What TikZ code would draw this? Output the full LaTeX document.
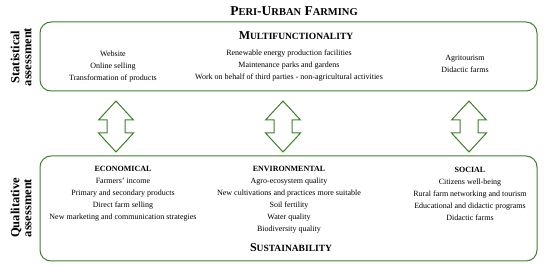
\documentclass[tikz,border=0pt]{standalone}
\usepackage{fontspec}
\setmainfont{Liberation Serif}

\definecolor{frameGreen}{RGB}{62,128,40}

\begin{document}
\begin{tikzpicture}[x=1pt,y=-1pt,
    areabox/.style={draw=frameGreen,line width=1pt,rounded corners=11pt},
    itemtext/.style={align=center,font=\fontsize{8}{12}\selectfont,inner sep=0pt},
    sidelabel/.style={rotate=90,align=center,font=\fontsize{12.5}{12}\selectfont\bfseries,inner sep=0pt},
    headtext/.style={font=\fontsize{12}{12}\selectfont\bfseries,inner sep=0pt},
    biarrow/.style={draw=frameGreen,line width=1pt,fill=white}]
  \useasboundingbox (0,0) rectangle (550,267);
  % title
  \node[headtext,font=\fontsize{13.5}{12}\selectfont\bfseries] (title) at (294,11) {P{\fontsize{10.5}{12}\selectfont ERI}-U{\fontsize{10.5}{12}\selectfont RBAN} F{\fontsize{10.5}{12}\selectfont ARMING}};
  % the two frames
  \draw[areabox] (40,22) rectangle (537,91);
  \draw[areabox] (40,156) rectangle (537,261);
  \node[sidelabel] (stat) at (21,57) {Statistical\\assessment};
  \node[sidelabel] (qual) at (21,208) {Qualitative\\assessment};
  % multifunctionality
  \node[headtext] (multi) at (296,36) {M{\fontsize{9.5}{12}\selectfont ULTIFUNCTIONALITY}};
  \node[itemtext] (web) at (113,67) {Website\\Online selling\\Transformation of products};
  \node[itemtext] (energy) at (289,66) {Renewable energy production facilities\\Maintenance parks and gardens\\Work on behalf of third parties - non-agricultural activities};
  \node[itemtext] (tour) at (465,64) {Agritourism\\Didactic farms};
  % sustainability
  \node[itemtext] (eco) at (123,194) {\textbf{ECONOMICAL}\\Farmers' income\\Primary and secondary products\\Direct farm selling\\New marketing and communication  strategies};
  \node[itemtext] (env) at (289,200) {\textbf{ENVIRONMENTAL}\\Agro-ecosystem quality\\New cultivations and practices more suitable\\Soil fertility\\Water quality\\Biodiversity quality};
  \node[itemtext] (soc) at (470,194) {\textbf{SOCIAL}\\Citizens well-being\\Rural farm networking and tourism\\Educational  and didactic programs\\Didactic farms};
  \node[headtext] (sust) at (291,248) {S{\fontsize{9.5}{12}\selectfont USTAINABILITY}};
  % double arrows between the frames
  \foreach \cx in {116,283,469}{
    \draw[biarrow] (\cx,101) -- ++(17.5,19) -- ++(-8.5,0) -- ++(0,13) -- ++(8.5,0)
      -- (\cx,152) -- ++(-17.5,-19) -- ++(8.5,0) -- ++(0,-13) -- ++(-8.5,0) -- cycle;
  }
\end{tikzpicture}
\end{document}
